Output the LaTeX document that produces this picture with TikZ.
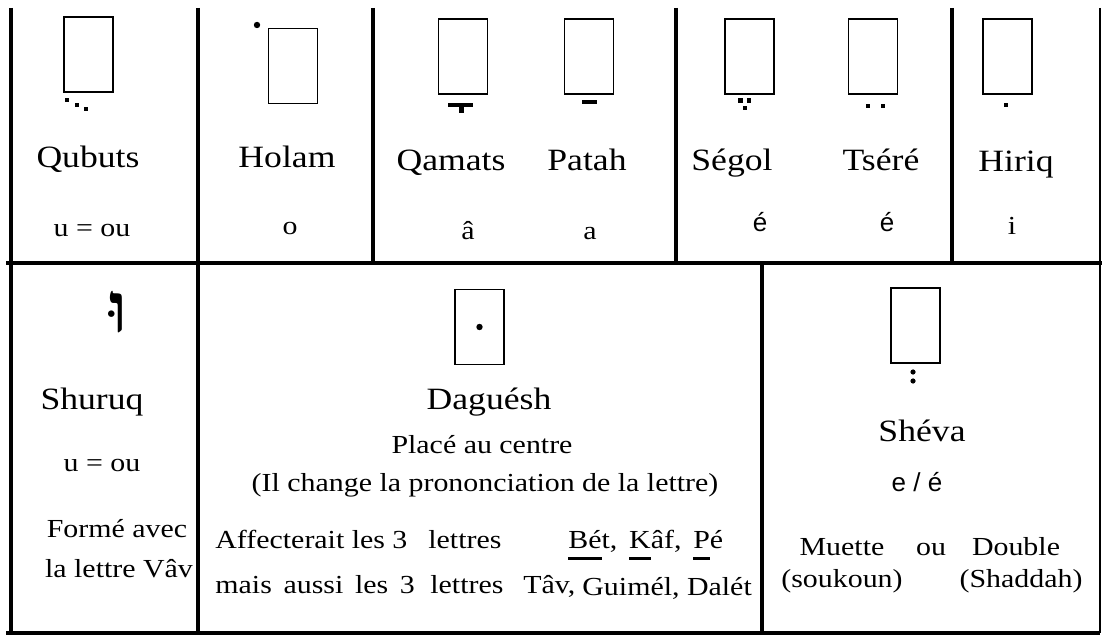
\documentclass[tikz,border=0pt]{standalone}
\usepackage{fontspec}
\setmainfont{Liberation Serif}[FakeStretch=1.15]
\newfontfamily\sansf{Liberation Sans}
\newfontfamily\hebfont[Script=Hebrew]{Liberation Serif}
\TeXXeTstate=1

\newcommand\titlesize{\fontsize{15.5pt}{18pt}\selectfont}
\newcommand\notesize{\fontsize{13pt}{16pt}\selectfont}
% square vowel point, centred on the given coordinate
\newcommand\sqdot[1]{\fill (#1) ++(-2.2,-2.2) rectangle ++(4.4,4.4);}
% thick underline below a letter
\newcommand\hul[1]{\setbox0\hbox{#1}\rlap{\rule[-6pt]{\wd0}{1.5pt}}#1}

\begin{document}
\begin{tikzpicture}[x=0.5pt, y=-0.5pt,
  frame/.style={line width=2pt},
  letterbox/.style={draw, line width=0.8pt, minimum width=24.5pt, minimum height=37.5pt, inner sep=0pt},
  title/.style={font=\titlesize, inner sep=0pt, anchor=base},
  note/.style={font=\notesize, inner sep=0pt, anchor=base},
  sansnote/.style={font=\sansf\notesize, inner sep=0pt, anchor=base},
  leftnote/.style={note, anchor=base west}]
  \useasboundingbox (0,0) rectangle (1102,635);

  % --- THE GRID ---
  \draw[frame] (11,8) -- (11,633);
  \draw[frame] (198,8) -- (198,633);
  \draw[frame] (373,8) -- (373,263);
  \draw[frame] (676,8) -- (676,263);
  \draw[frame] (952,8) -- (952,263);
  \draw[frame] (762,263) -- (762,633);
  \draw[frame] (6,263) -- (1102,263);
  \draw[frame] (6,633) -- (1100,633);
  \draw[line width=0.8pt] (1100,8) -- (1100,633);

  % --- TOP ROW: THE VOWEL POINTS ---

  % 1. Qubuts
  \node[letterbox] (qubutsbox) at (88.5,54.5) {};
  \foreach \p in {{67,100},{77,105},{86,109}} {\sqdot{\p}}
  \node[title] (qubuts) at (88,168) {Qubuts};
  \node[note] (qubutsval) at (92,237) {u = ou};

  % 2. Holam
  \node[letterbox] (holambox) at (293,66) {};
  \fill (257,25) circle (1.6pt);
  \node[title] (holam) at (287,168) {Holam};
  \node[note] (holamval) at (290,235) {o};

  % 3. Qamats and Patah
  \node[letterbox] (qamatsbox) at (463,56.5) {};
  \fill (448,103) rectangle (473,107);
  \fill (459,107) rectangle (464,113);
  \node[title] (qamats) at (451,171) {Qamats};
  \node[note] (qamatsval) at (468,240) {â};

  \node[letterbox] (patahbox) at (589,56.5) {};
  \fill (582,100) rectangle (597,104);
  \node[title] (patah) at (587,171) {Patah};
  \node[note] (patahval) at (590,240) {a};

  % 4. Segol and Tsere
  \node[letterbox] (segolbox) at (749.5,56.5) {};
  \foreach \p in {{740.5,100.5},{749,100.5},{745,108}} {\sqdot{\p}}
  \node[title] (segol) at (732,171) {Ségol};
  \node[sansnote] (segolval) at (760,232) {é};

  \node[letterbox] (tserebox) at (873,56.5) {};
  \foreach \p in {{868,106},{883,106}} {\sqdot{\p}}
  \node[title] (tsere) at (881,171) {Tséré};
  \node[sansnote] (tsereval) at (887,232) {é};

  % 5. Hiriq
  \node[letterbox] (hiriqbox) at (1007.5,56.5) {};
  \sqdot{1006,105}
  \node[title] (hiriq) at (1016,172) {Hiriq};
  \node[note] (hiriqval) at (1012,235) {i};

  % --- BOTTOM ROW ---

  % A. Shuruq
  \node[anchor=base, inner sep=0pt, font=\hebfont\bfseries\fontsize{35pt}{40pt}\selectfont] (shuruqsign) at (118,333) {\beginR וּ\endR};
  \node[title] (shuruq) at (92,410) {Shuruq};
  \node[note] (shuruqval) at (102,472) {u = ou};
  \node[note] (shuruqnote1) at (117,538) {Formé avec};
  \node[note] (shuruqnote2) at (119,577) {la lettre Vâv};

  % B. Daguesh
  \node[letterbox] (dagueshbox) at (479.5,327) {};
  \fill (dagueshbox.center) circle (1.6pt);
  \node[title] (daguesh) at (489,410) {Daguésh};
  \node[note] (dagueshnote1) at (482,454) {Placé au centre};
  \node[note] (dagueshnote2) at (485,492) {(Il change la prononciation de la lettre)};
  \node[leftnote] (affect) at (215,548) {Affecterait les 3};
  \node[leftnote] (affectl) at (428,548) {lettres};
  \node[leftnote] (bkp) at (568,548) {\hul{Bé}t,\, \hul{K}âf,\, \hul{P}é};
  \node[leftnote] (mais) at (215,593) {mais\hspace{0.45em}aussi\hspace{0.45em}les\hspace{0.45em}3};
  \node[leftnote] (maisl) at (430,593) {lettres};
  \node[leftnote] (tav) at (523,593) {Tâv,};
  \node[leftnote] (gd) at (582,595) {Guimél, Dalét};

  % C. Sheva
  \node[letterbox] (shevabox) at (915.5,325.5) {};
  \fill (913,372) circle (1.3pt);
  \fill (913,381) circle (1.3pt);
  \node[title] (sheva) at (922,442) {Shéva};
  \node[sansnote] (shevaval) at (917,492) {e / é};
  \node[note] (muette) at (842,555) {Muette};
  \node[note] (ou) at (931,555) {ou};
  \node[note] (double) at (1016,555) {Double};
  \node[note] (soukoun) at (842,587) {(soukoun)};
  \node[note] (shaddah) at (1021,587) {(Shaddah)};
\end{tikzpicture}
\end{document}
